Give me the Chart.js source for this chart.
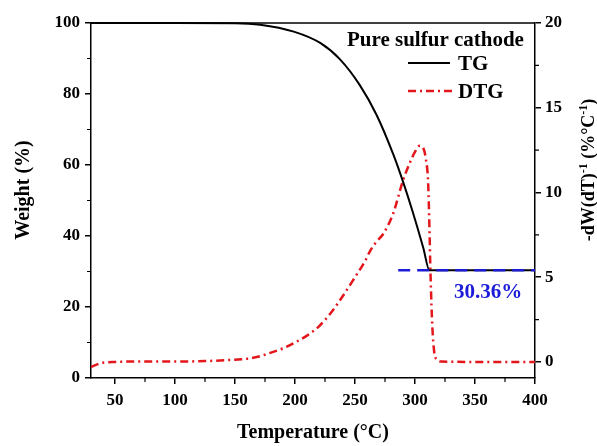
<!DOCTYPE html>
<html><head><meta charset="utf-8">
<script src="https://cdn.jsdelivr.net/npm/chart.js@4.4.0/dist/chart.umd.min.js"></script>
<style>html,body{margin:0;padding:0;background:#fff;overflow:hidden}</style>
</head><body>
<canvas id="c" width="597" height="446"></canvas>
<script>
// ---- data ----
const tgTemps   = [30, 100, 150, 171, 199, 221, 237.5, 254, 268, 282, 290, 298, 307, 312, 350, 400];
const tgWeight  = [100, 100, 99.95, 99.53, 97.57, 94.38, 89.76, 82.5, 74.1, 62.9, 55.3, 46.9, 36.56, 30.36, 30.36, 30.36];

const dtgTemps  = [30, 35, 40, 50, 70, 100, 125, 150, 160, 170, 180, 190, 200, 210, 220, 230, 240, 250, 258, 263, 268, 274, 282, 290, 296, 300, 304, 307, 309, 311, 312, 313, 314.5, 316, 318, 322, 350, 400];
const dtgValues = [-0.3, -0.15, -0.05, 0.0, 0.02, 0.02, 0.05, 0.13, 0.18, 0.32, 0.55, 0.8, 1.15, 1.55, 2.1, 2.9, 3.9, 5.0, 5.9, 6.6, 7.1, 7.6, 8.8, 10.7, 11.8, 12.4, 12.75, 12.6, 12.0, 10.5, 8.0, 5.0, 2.0, 0.6, 0.15, 0.02, 0.0, 0.0];

const residueTemps = [286, 400];
const residueValue = 30.36;
const residueLabel = '30.36%';

const xTicks      = [50, 100, 150, 200, 250, 300, 350, 400];
const xMinorTicks = [75, 125, 175, 225, 275, 325, 375];
const yTicks      = [0, 20, 40, 60, 80, 100];
const yMinorTicks = [10, 30, 50, 70, 90];
const y2Ticks     = [0, 5, 10, 15, 20];
const y2MinorTicks= [2.5, 7.5, 12.5, 17.5];

const legendTitle = 'Pure sulfur cathode';
const seriesNames = ['TG', 'DTG'];

const RED = '#e3161c', BLUE = '#1c1cd8', FONT = "'Liberation Serif', 'Times New Roman', serif";
const DTG_DASH = [8, 4, 2, 4];

const toXY = (xs, ys) => xs.map((x, i) => ({x, y: ys[i]}));

const tickFont = {family: FONT, size: 17, weight: 'bold'};

const extras = {
  id: 'extras',
  afterDraw(chart) {
    const ctx = chart.ctx, a = chart.chartArea;
    const sx = chart.scales.x, sy = chart.scales.y, sy2 = chart.scales.y2;
    ctx.save();
    // top frame line
    ctx.strokeStyle = '#000'; ctx.lineWidth = 1.5;
    ctx.beginPath(); ctx.moveTo(a.left, a.top); ctx.lineTo(a.right, a.top); ctx.stroke();
    // minor ticks
    ctx.lineWidth = 1.2;
    ctx.beginPath();
    xMinorTicks.forEach(v => { const p = sx.getPixelForValue(v); ctx.moveTo(p, a.bottom); ctx.lineTo(p, a.bottom + 4); });
    yMinorTicks.forEach(v => { const p = sy.getPixelForValue(v); ctx.moveTo(a.left, p); ctx.lineTo(a.left - 4, p); });
    y2MinorTicks.forEach(v => { const p = sy2.getPixelForValue(v); ctx.moveTo(a.right, p); ctx.lineTo(a.right + 4, p); });
    ctx.stroke();

    // legend
    ctx.fillStyle = '#000';
    ctx.font = `bold 21px ${FONT}`;
    ctx.textAlign = 'left'; ctx.textBaseline = 'alphabetic';
    ctx.fillText(legendTitle, 347, 46);
    ctx.textBaseline = 'middle';
    ctx.strokeStyle = '#000'; ctx.lineWidth = 2;
    ctx.beginPath(); ctx.moveTo(408, 63); ctx.lineTo(450, 63); ctx.stroke();
    ctx.fillText(seriesNames[0], 458, 65);
    ctx.strokeStyle = RED; ctx.lineWidth = 2.5; ctx.setLineDash(DTG_DASH);
    ctx.beginPath(); ctx.moveTo(408, 91); ctx.lineTo(452, 91); ctx.stroke();
    ctx.setLineDash([]);
    ctx.fillText(seriesNames[1], 458, 93);

    // residue annotation
    ctx.fillStyle = BLUE;
    ctx.font = `bold 21px ${FONT}`;
    ctx.textAlign = 'center';
    ctx.fillText(residueLabel, 488, 293);

    // axis titles
    ctx.fillStyle = '#000';
    ctx.font = `bold 20px ${FONT}`;
    ctx.textAlign = 'center'; ctx.textBaseline = 'middle';
    ctx.fillText('Temperature (\u00B0C)', 313, 433);
    ctx.save();
    ctx.translate(24, 190); ctx.rotate(-Math.PI / 2);
    ctx.fillText('Weight (%)', 0, 0);
    ctx.restore();

    // right title with superscripts, reading bottom to top
    const big = 18, small = 12;
    const segs = [
      {t: '-dW(dT)', s: false}, {t: '-1', s: true}, {t: ' (%\u00B0C', s: false}, {t: '-1', s: true}, {t: ')', s: false}
    ];
    let total = 0;
    segs.forEach(g => { ctx.font = `bold ${g.s ? small : big}px ${FONT}`; g.w = ctx.measureText(g.t).width; total += g.w; });
    ctx.save();
    ctx.translate(588, 170); ctx.rotate(-Math.PI / 2);
    ctx.textAlign = 'left'; ctx.textBaseline = 'alphabetic';
    let xx = -total / 2;
    segs.forEach(g => {
      ctx.font = `bold ${g.s ? small : big}px ${FONT}`;
      ctx.fillText(g.t, xx, g.s ? -1 : 6);
      xx += g.w;
    });
    ctx.restore();
    ctx.restore();
  }
};

new Chart(document.getElementById('c'), {
  type: 'line',
  data: {
    datasets: [
      {
        label: 'residue', data: toXY(residueTemps, [residueValue, residueValue]), yAxisID: 'y',
        borderColor: BLUE, borderWidth: 2.5, borderDash: [12, 7], pointRadius: 0, order: 0, clip: false
      },
      {
        label: seriesNames[0], data: toXY(tgTemps, tgWeight), yAxisID: 'y',
        borderColor: '#000', borderWidth: 2, pointRadius: 0, cubicInterpolationMode: 'monotone', order: 1, clip: false
      },
      {
        label: seriesNames[1], data: toXY(dtgTemps, dtgValues), yAxisID: 'y2',
        borderColor: RED, borderWidth: 2.5, borderDash: DTG_DASH, pointRadius: 0, cubicInterpolationMode: 'monotone', order: 2, clip: false
      }
    ]
  },
  options: {
    responsive: false, animation: false, devicePixelRatio: 1,
    layout: {padding: {top: 23, left: 0, right: 0, bottom: 0}},
    plugins: {legend: {display: false}, tooltip: {enabled: false}},
    scales: {
      x: {
        type: 'linear', min: 30, max: 400,
        afterBuildTicks: s => { s.ticks = xTicks.map(v => ({value: v})); },
        afterFit: s => { s.height = 68; },
        grid: {display: true, drawOnChartArea: false, drawTicks: true, tickLength: 6, color: '#000', lineWidth: 1.5},
        border: {display: true, color: '#000', width: 1.5},
        ticks: {font: tickFont, color: '#000', padding: 6, maxRotation: 0, callback: v => String(v)}
      },
      y: {
        type: 'linear', position: 'left', min: 0, max: 100,
        afterBuildTicks: s => { s.ticks = yTicks.map(v => ({value: v})); },
        afterFit: s => { s.width = 91; },
        grid: {display: true, drawOnChartArea: false, drawTicks: true, tickLength: 6, color: '#000', lineWidth: 1.5},
        border: {display: true, color: '#000', width: 1.5},
        ticks: {font: tickFont, color: '#000', padding: 5, callback: v => String(v)}
      },
      y2: {
        type: 'linear', position: 'right', min: -0.95, max: 20,
        afterBuildTicks: s => { s.ticks = y2Ticks.map(v => ({value: v})); },
        afterFit: s => { s.width = 62; },
        grid: {display: true, drawOnChartArea: false, drawTicks: true, tickLength: 6, color: '#000', lineWidth: 1.5},
        border: {display: true, color: '#000', width: 1.5},
        ticks: {font: tickFont, color: '#000', padding: 4, callback: v => String(v)}
      }
    }
  },
  plugins: [extras]
});
</script>
</body></html>
